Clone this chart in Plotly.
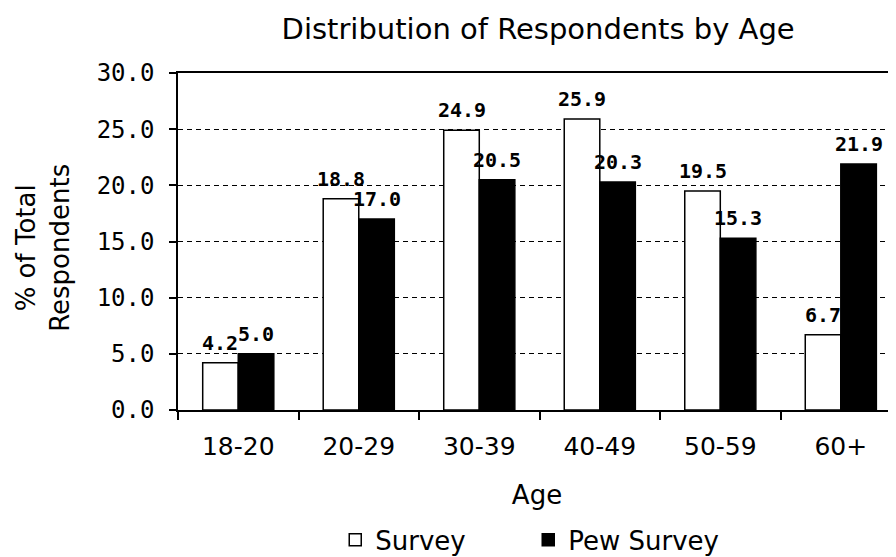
import plotly.graph_objects as go

categories = ["18-20", "20-29", "30-39", "40-49", "50-59", "60+"]
survey = [4.2, 18.8, 24.9, 25.9, 19.5, 6.7]
pew_survey = [5.0, 17.0, 20.5, 20.3, 15.3, 21.9]
y_ticks = [0, 5, 10, 15, 20, 25, 30]
y_tick_labels = ["0.0", "5.0", "10.0", "15.0", "20.0", "25.0", "30.0"]

BARGAP = 0.41
bar_w = (1 - BARGAP) / 2  # width of one bar in category units

label_font = dict(family="DejaVu Sans Mono", size=20, color="black", weight="bold")

fig = go.Figure()
fig.add_trace(go.Bar(
    name="Survey", x=categories, y=survey,
    marker=dict(color="white", line=dict(color="black", width=1.5)),
))
fig.add_trace(go.Bar(
    name="Pew Survey", x=categories, y=pew_survey,
    marker=dict(color="black", line=dict(color="black", width=1.5)),
))

# value labels above each bar
annotations = []
for i, (s, p) in enumerate(zip(survey, pew_survey)):
    for val, off in ((s, -bar_w / 2), (p, bar_w / 2)):
        annotations.append(dict(
            x=i + off, y=val, xref="x", yref="y", text=f"{val:.1f}",
            showarrow=False, xanchor="center", yanchor="middle", yshift=20,
            font=label_font,
        ))

# y-axis title placed as a rotated annotation
annotations.append(dict(
    text="% of Total<br>Respondents", textangle=-90, showarrow=False,
    xref="paper", yref="paper", x=-0.189, y=0.482, xanchor="center", yanchor="middle",
    font=dict(family="DejaVu Sans", size=26, color="black"),
))

fig.update_layout(
    width=888, height=549,
    margin=dict(l=170, r=0, t=65, b=147, autoexpand=False),
    paper_bgcolor="white", plot_bgcolor="white",
    barmode="group", bargap=BARGAP, bargroupgap=0,
    title=dict(text="Distribution of Respondents by Age", x=0.597, xanchor="center",
               xref="container", y=0.962, yanchor="middle",
               font=dict(family="DejaVu Sans", size=29, color="black")),
    font=dict(family="DejaVu Sans", color="black"),
    showlegend=True,
    legend=dict(orientation="h", x=0.219, xanchor="left", y=-0.385, yanchor="middle",
                font=dict(family="DejaVu Sans", size=26, color="black"),
                itemwidth=30, traceorder="normal",
                entrywidth=148, entrywidthmode="pixels"),
    annotations=annotations,
)
fig.update_xaxes(
    range=[-0.5, 5.458], showline=True, linecolor="black", linewidth=1.5, mirror=True,
    ticks="outside", tickson="boundaries", ticklen=8, tickcolor="black", tickwidth=1.5,
    ticklabelstandoff=13,
    tickfont=dict(family="DejaVu Sans", size=25, color="black"),
    title=dict(text="Age", font=dict(family="DejaVu Sans", size=26, color="black"), standoff=26),
    showgrid=False, automargin=False,
)
fig.update_yaxes(
    range=[0, 30], tickvals=y_ticks, ticktext=y_tick_labels,
    showline=True, linecolor="black", linewidth=1.5,
    ticks="outside", ticklen=7, tickcolor="black", tickwidth=1.5,
    ticklabelstandoff=10,
    tickfont=dict(family="DejaVu Sans Mono", size=24, color="black"),
    showgrid=True, gridcolor="black", griddash="5px,4px", gridwidth=1.2,
    zeroline=False, automargin=False,
)

fig.write_html("out.html")
